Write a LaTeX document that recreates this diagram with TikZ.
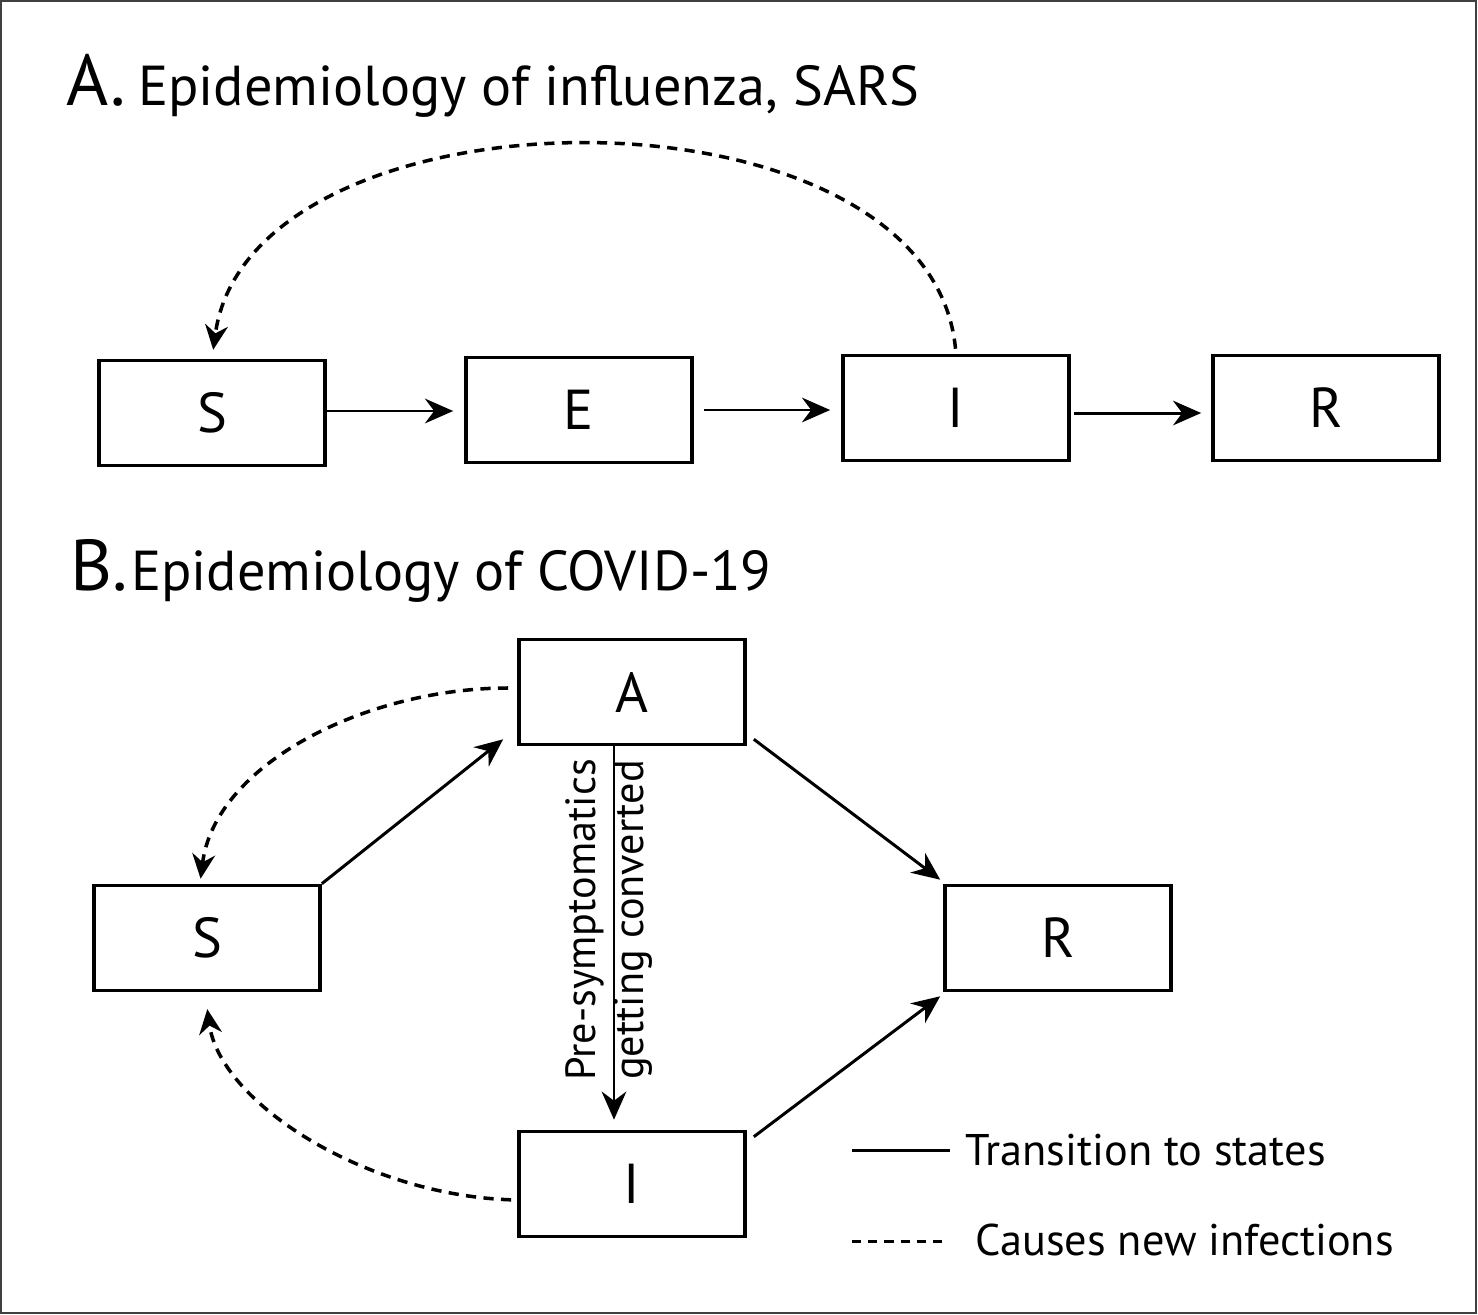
\documentclass[tikz,border=0pt]{standalone}
\usepackage{fontspec}
\setmainfont{PT Sans}
\usetikzlibrary{arrows.meta,positioning}
\tikzstyle{compartment} = [draw, line width=1.0pt, minimum width=2.26cm, minimum height=1.05cm, inner sep=0pt, font=\fontsize{16}{18}\selectfont]
\tikzstyle{arrow} = [draw, line width=0.85pt, -{Stealth[length=8pt,width=7pt]}]
\tikzstyle{infect} = [draw, line width=1.0pt, dash pattern=on 2.9pt off 2.1pt, -{Stealth[length=7pt,width=6.5pt]}]
\tikzstyle{heading} = [anchor=base west, inner sep=0pt]
\tikzstyle{legendtext} = [anchor=west, inner sep=0pt, font=\fontsize{12.6}{15}\selectfont]
\newcommand{\compartment}[2]{node (#1) [compartment] {#2}}

\begin{document}
\begin{tikzpicture}[x=0.01cm,y=-0.01cm]
\useasboundingbox (0,0) rectangle (1478,1315);
\draw[black!75, line width=0.6pt] (1,1) rectangle (1476,1313);

% A. influenza, SARS
\node[heading] (titleA) at (66,105) {{\fontsize{20.5}{24}\selectfont A.}\hspace{0.12cm}{\fontsize{16}{19}\selectfont Epidemiology of influenza, SARS}};
\path (212,413) \compartment{sA}{S};
\path (sA)+(367,-3) \compartment{eA}{E};
\path (eA)+(377,-2) \compartment{iA}{I};
\path (iA)+(370,0) \compartment{rA}{R};
\path [arrow, shorten >=0.11cm] ([yshift=0.02cm]sA.east) -- ([yshift=0.02cm]sA.east -| eA.west);
\path [arrow, shorten <=0.1cm, shorten >=0.11cm] (eA.east) -- (eA.east -| iA.west);
\path [arrow, shorten <=0.03cm, shorten >=0.1cm] ([yshift=-0.05cm]iA.east) -- ([yshift=-0.05cm]iA.east -| rA.west);
\path [infect, shorten <=0.05cm, shorten >=0.09cm] (iA.north) .. controls +(-27,-280) and +(38,-280) .. (sA.north);

% B. COVID-19
\node[heading] (titleB) at (70,590) {{\fontsize{20.5}{24}\selectfont B.}\hspace{0.03cm}{\fontsize{16}{19}\selectfont Epidemiology of COVID-19}};
\path (632,692) \compartment{aB}{A};
\path (aB)+(-425,246) \compartment{sB}{S};
\path (aB)+(426,246) \compartment{rB}{R};
\path (aB)+(0,492) \compartment{iB}{I};
\path [arrow] (sB.north east) -- ([xshift=-0.14cm,yshift=0.07cm]aB.south west);
\path [arrow] ([xshift=0.07cm,yshift=0.07cm]aB.south east) -- ([xshift=-0.03cm,yshift=0.04cm]rB.north west);
\path [arrow] ([xshift=0.07cm,yshift=-0.07cm]iB.north east) -- ([xshift=-0.03cm,yshift=-0.04cm]rB.south west);
\path [arrow, shorten >=0.1cm] ([xshift=-0.18cm]aB.south) -- ([xshift=-0.18cm]iB.north);
\node[rotate=90, align=center, font=\fontsize{12}{13.4}\selectfont] (conv) at (609,920) {Pre-symptomatics\\getting converted};
\path [infect, shorten <=0.09cm, shorten >=0.05cm] ([yshift=0.04cm]aB.west) .. controls +(-150,0) and +(15,-120) .. ([xshift=-0.07cm]sB.north);
\path [infect, shorten <=0.06cm, shorten >=0.17cm] ([yshift=-0.16cm]iB.west) .. controls +(-153,-5) and +(15,110) .. ([xshift=-0.02cm]sB.south);

% legend
\coordinate (solidL) at (852,1150);
\coordinate (solidR) at (950,1150);
\draw[line width=0.85pt] (solidL) -- (solidR);
\node[legendtext] (solidtxt) at (965,1150) {Transition to states};
\coordinate (dashL) at (852,1241);
\coordinate (dashR) at (945,1241);
\draw[line width=0.85pt, dash pattern=on 2.6pt off 2pt] (dashL) -- (dashR);
\node[legendtext] (dashtxt) at (975,1240) {Causes new infections};
\end{tikzpicture}
\end{document}
